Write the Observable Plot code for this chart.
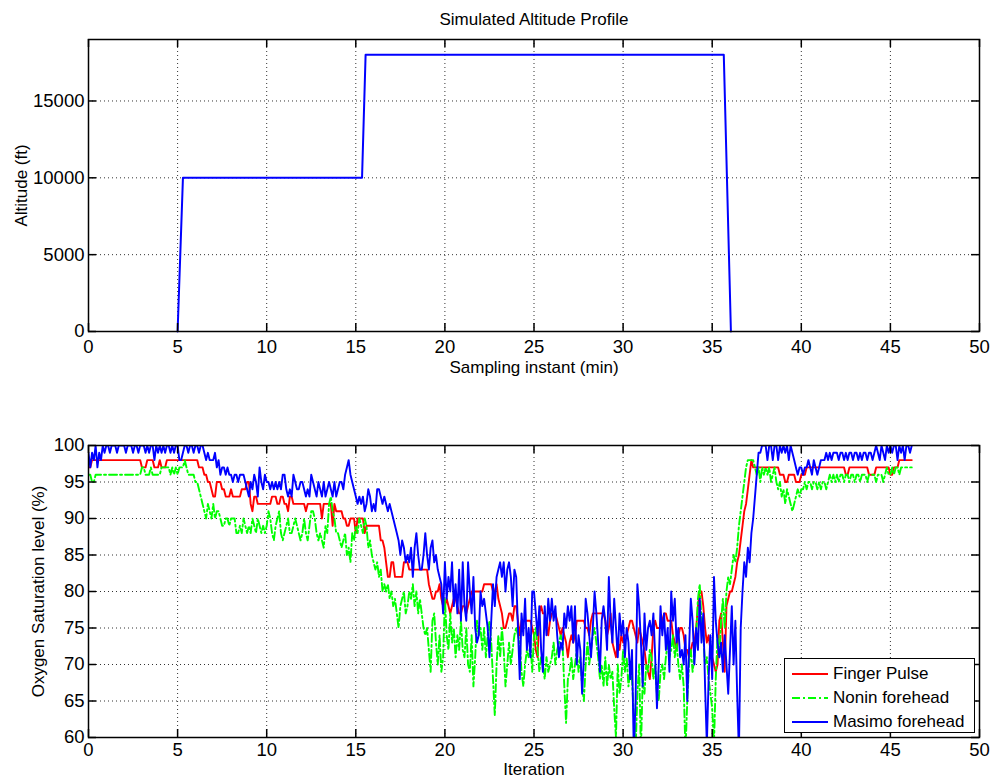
<!DOCTYPE html>
<html>
<head>
<meta charset="utf-8">
<script src="https://cdn.jsdelivr.net/npm/d3@7"></script>
<script src="https://cdn.jsdelivr.net/npm/@observablehq/plot@0.6"></script>
<style>
  html, body { margin: 0; padding: 0; background: #fff; }
  #wrap { position: relative; width: 991px; height: 780px; overflow: hidden; font-family: "Liberation Sans", Arial, Helvetica, sans-serif; }
  .panel { position: absolute; left: 0; }
  #legend { position: absolute; left: 784px; top: 658px; width: 191px; height: 75px; box-sizing: border-box;
            border: 1.5px solid #000; background: #fff; font-size: 17px; color: #000; }
  .row { position: absolute; left: 0; height: 24px; display: flex; align-items: center; }
  .row svg { margin-left: 7px; margin-right: 5px; }
</style>
</head>
<body>
<div id="wrap">
  <div id="top" class="panel" style="top:0"></div>
  <div id="bot" class="panel" style="top:380px"></div>
  <div id="legend"></div>
</div>
<script>
// ---------- Top panel data ----------
const topTitle = "Simulated Altitude Profile";
const topXLabel = "Sampling instant (min)";
const topYLabel = "Altitude (ft)";
const altTime = [5.0, 5.3, 15.35, 15.55, 35.65, 36.05];
const altFeet = [0, 10000, 10000, 18000, 18000, 0];
const xTicks = [0, 5, 10, 15, 20, 25, 30, 35, 40, 45, 50];
const altTicks = [0, 5000, 10000, 15000];

// ---------- Bottom panel data (one sample every 0.1 min) ----------
const botXLabel = "Iteration";
const botYLabel = "Oxygen Saturation level (%)";
const satTicks = [60, 65, 70, 75, 80, 85, 90, 95, 100];
const seriesNames = ["Finger Pulse", "Nonin forehead", "Masimo forehead"];
const iterStep = 0.1;
const fingerPulse = [
97,97,98,98,98,98,98,98,98,98,
98,98,98,98,98,98,98,98,98,98,
98,98,98,98,98,98,98,98,98,98,
97,97,97,98,98,98,98,97,97,97,
98,97,97,97,98,98,98,98,98,98,
98,98,98,98,98,98,98,98,98,98,
98,98,97,97,97,96,96,95,95,94,
93,93,95,95,95,94,94,93,93,93,
94,93,93,93,93,93,94,94,94,95,
95,92,91,93,93,92,92,92,92,92,
92,92,92,93,93,93,92,92,93,93,
92,92,91,93,93,92,92,92,92,92,
92,92,91,92,92,92,92,92,92,92,
92,90,92,92,92,92,92,89,92,91,
91,91,91,90,90,89,89,90,90,90,
88,90,90,90,90,88,89,89,89,89,
89,89,89,89,87,87,86,84,82,82,
84,84,82,82,82,82,82,84,84,84,
83,83,83,83,83,83,83,83,83,83,
83,81,80,79,79,80,80,81,79,78,
78,79,78,77,78,79,79,78,77,77,
78,78,77,78,79,80,80,80,80,80,
80,80,81,81,81,81,81,80,80,81,
79,78,77,75,75,76,77,77,76,78,
78,76,74,76,76,76,76,76,76,75,
74,72,71,77,78,77,77,75,74,76,
77,77,77,76,75,74,75,74,73,71,
73,74,73,74,76,76,76,76,76,75,
75,74,76,77,77,77,77,77,77,77,
76,74,75,77,73,72,71,73,72,74,
73,74,74,75,76,76,75,74,73,75,
74,73,72,70,69,68,71,75,76,75,
75,75,76,77,77,76,76,76,74,73,
72,74,75,75,74,72,72,71,72,73,
73,75,78,80,80,78,75,73,74,72,
71,70,69,70,76,77,73,69,78,79,
80,80,81,82,84,85,87,89,91,92,
94,96,98,97,97,97,97,97,97,97,
97,97,97,97,97,97,97,97,96,96,
96,95,95,96,96,96,96,95,95,95,
96,96,96,97,97,97,97,97,97,97,
97,97,97,97,97,97,97,97,97,97,
97,97,97,97,97,96,96,97,97,97,
97,97,97,97,97,97,97,97,96,96,
96,96,97,97,97,97,97,97,97,97,
96,96,97,97,97,98,98,98,98,98,
98,98,98];
const noninForehead = [
96,96,95,95,96,96,96,96,96,96,
96,96,96,96,96,96,96,96,96,96,
96,96,96,96,96,96,96,96,96,96,
97,97,96,96,96,97,96,96,96,96,
96,97,97,97,97,97,96,97,96,97,
96,97,97,97,98,97,96,96,96,96,
95,95,94,93,92,91,90,92,91,90,
92,90,91,91,90,89,89,90,90,89,
90,90,90,88,88,89,88,90,89,88,
89,88,90,89,88,90,89,88,89,88,
89,91,90,88,87,89,90,91,88,87,
88,89,90,88,88,89,90,89,88,87,
88,90,88,87,89,91,91,90,88,87,
88,87,86,89,88,92,93,91,90,88,
88,87,86,87,88,85,86,84,88,87,
89,88,90,89,88,90,89,86,87,85,
84,83,84,82,83,80,81,80,81,79,
80,78,79,77,75,78,79,80,77,78,
80,79,81,78,80,77,79,77,75,74,
75,72,69,76,77,73,70,74,69,71,
79,74,72,77,73,75,71,74,72,76,
72,71,75,70,69,74,67,71,76,74,
75,72,75,71,74,76,73,68,63,70,
74,71,75,72,67,70,73,70,72,74,
75,74,73,69,67,70,72,71,73,69,
74,75,72,69,71,70,68,71,69,70,
71,73,70,72,73,74,73,67,62,68,
69,71,68,70,72,69,71,67,65,70,
73,70,72,74,75,73,71,68,70,67,
71,67,70,68,69,64,60,70,66,68,
72,69,71,67,69,68,63,58,66,70,
58,68,66,70,69,72,71,68,70,66,
65,69,70,68,71,73,71,72,74,71,
73,70,68,70,67,58,65,70,72,69,
71,74,79,81,76,74,70,71,68,66,
64,59,68,74,71,76,79,75,80,82,
81,83,85,84,86,89,91,93,95,97,
98,98,98,98,97,96,97,95,97,96,
97,96,97,95,96,97,95,94,95,93,
94,92,94,93,92,91,92,93,94,93,
94,94,95,94,95,95,94,95,95,94,
95,94,95,95,94,95,96,95,96,95,
96,95,96,96,95,96,96,95,96,96,
95,96,96,95,96,96,96,95,96,96,
96,96,95,96,96,96,95,96,97,96,
96,97,96,97,97,96,97,97,97,97,
97,97,97];
const masimoForehead = [
99,97,99,98,100,97,99,98,100,99,
100,100,99,100,100,100,99,100,100,100,
100,99,100,100,100,99,100,100,99,100,
100,100,99,100,99,100,100,98,100,99,
100,99,100,99,100,100,99,100,99,100,
100,98,98,99,100,100,99,100,100,99,
100,100,99,100,100,99,98,99,98,98,
98,99,97,98,96,97,97,96,97,96,
96,95,96,96,95,96,96,96,95,94,
93,95,94,96,95,93,97,95,94,96,
95,95,94,95,94,95,94,95,94,96,
96,94,93,94,93,96,95,94,94,95,
95,94,93,94,93,96,95,94,93,95,
94,93,95,93,94,95,94,93,95,93,
94,95,95,94,96,97,98,96,95,94,
93,92,93,92,93,91,92,94,93,91,
92,91,94,94,93,92,93,92,91,92,
91,90,89,88,87,85,87,86,84,85,
84,86,82,86,88,85,83,83,85,88,
85,83,86,87,84,85,83,82,81,77,
84,79,82,80,84,78,81,77,83,76,
84,78,76,84,80,77,82,75,73,74,
80,78,79,77,75,71,76,81,78,82,
83,84,82,84,80,83,84,82,78,83,
82,75,68,77,74,79,72,75,71,80,
80,77,74,78,72,69,78,74,79,76,
79,76,78,74,71,73,72,77,75,78,
76,78,73,78,70,74,72,66,71,79,
77,74,71,75,80,77,73,69,76,78,
76,72,82,76,73,79,75,71,77,74,
76,71,75,73,68,72,58,65,81,78,
73,67,77,72,75,76,74,77,71,64,
70,78,74,77,72,75,69,80,76,79,
73,75,71,72,70,74,65,72,79,76,
70,75,72,79,73,77,67,59,68,74,
68,82,76,73,71,73,69,74,70,66,
72,78,70,76,66,58,75,80,84,82,
86,84,88,90,93,96,99,99,100,100,
100,98,100,100,98,100,100,98,100,99,
100,99,100,98,100,99,98,97,96,97,
97,96,97,97,98,97,96,98,97,96,
97,98,98,98,99,98,99,98,99,99,
99,98,99,99,98,99,98,99,99,98,
99,99,98,99,98,99,99,98,99,99,
98,99,100,99,98,100,99,98,100,99,
100,99,100,100,98,100,99,100,98,100,
100,99,100];

const seriesColors = ["#ff0000", "#00ff00", "#0000ff"];
const seriesDash = [null, "8,3,2,3", null];

// ---------- shared layout ----------
const W = 991, ML = 88, MR = 12;
const fontStack = "Liberation Sans, Arial, Helvetica, sans-serif";
const TICK = 8;
const TICK_FONT = 18.5;

function gridMarks(xT, yT) {
  return [
    Plot.ruleX(xT, {stroke: "#333", strokeWidth: 1, strokeDasharray: "1,3"}),
    Plot.ruleY(yT, {stroke: "#333", strokeWidth: 1, strokeDasharray: "1,3"})
  ];
}
function ticksMarks(innerW, innerH, xT, yT, xPad) {
  return [
    Plot.tickX(xT, {x: d => d, insetTop: innerH - TICK, stroke: "#000", strokeWidth: 1.5}),
    Plot.tickX(xT, {x: d => d, insetBottom: innerH - TICK, stroke: "#000", strokeWidth: 1.5}),
    Plot.tickY(yT, {y: d => d, insetRight: innerW - TICK, stroke: "#000", strokeWidth: 1.5}),
    Plot.tickY(yT, {y: d => d, insetLeft: innerW - TICK, stroke: "#000", strokeWidth: 1.5}),
    Plot.frame({stroke: "#000", strokeWidth: 1.5}),
    // tick labels
    Plot.text(xT, {x: d => d, frameAnchor: "bottom", dy: xPad, lineAnchor: "top", textAnchor: "middle",
                   text: d => String(d), fontSize: TICK_FONT, fill: "#000"}),
    Plot.text(yT, {y: d => d, frameAnchor: "left", dx: -4, lineAnchor: "middle", textAnchor: "end",
                   text: d => String(d), fontSize: TICK_FONT, fill: "#000"})
  ];
}
function label(txt, opts) {
  return Plot.text([txt], {text: d => d, fontSize: 17, textAnchor: "middle", lineAnchor: "middle", fill: "#000", ...opts});
}

// ---------- Top chart ----------
const topH = 380, topMT = 39, topMB = 49;
const topInnerW = W - ML - MR, topInnerH = topH - topMT - topMB;
const altData = altTime.map((t, i) => ({t, ft: altFeet[i]}));
const topPlot = Plot.plot({
  width: W, height: topH,
  marginLeft: ML, marginRight: MR, marginTop: topMT, marginBottom: topMB,
  style: {fontFamily: fontStack, fontSize: "17px", color: "#000", background: "#fff", overflow: "visible"},
  x: {domain: [0, 50], axis: null},
  y: {domain: [0, 19000], axis: null},
  marks: [
    ...gridMarks(xTicks.slice(1, -1), altTicks.slice(1)),
    Plot.line(altData, {x: "t", y: "ft", stroke: "#0000ff", strokeWidth: 2}),
    ...ticksMarks(topInnerW, topInnerH, xTicks, altTicks, 8),
    label(topTitle, {frameAnchor: "top", dy: -20}),
    label(topXLabel, {frameAnchor: "bottom", dy: 36}),
    label(topYLabel, {frameAnchor: "left", dx: -67, rotate: -90})
  ]
});
document.getElementById("top").appendChild(topPlot);

// ---------- Bottom chart ----------
const botH = 400, botMT = 65, botMB = 43;
const botInnerW = W - ML - MR, botInnerH = botH - botMT - botMB;
const allSeries = [fingerPulse, noninForehead, masimoForehead];
const botRows = [];
allSeries.forEach((arr, s) => arr.forEach((v, i) => botRows.push({
  iter: Math.round(i * iterStep * 10) / 10, sat: v, series: seriesNames[s]
})));
const botPlot = Plot.plot({
  width: W, height: botH,
  marginLeft: ML, marginRight: MR, marginTop: botMT, marginBottom: botMB,
  style: {fontFamily: fontStack, fontSize: "17px", color: "#000", background: "#fff", overflow: "visible"},
  x: {domain: [0, 50], axis: null},
  y: {domain: [60, 100], axis: null},
  marks: [
    ...gridMarks(xTicks.slice(1, -1), satTicks.slice(1, -1)),
    ...seriesNames.map((name, s) => Plot.line(botRows.filter(d => d.series === name), {
      x: "iter", y: "sat", stroke: seriesColors[s], strokeWidth: 1.9,
      strokeDasharray: seriesDash[s] || undefined, clip: true
    })),
    ...ticksMarks(botInnerW, botInnerH, xTicks, satTicks, 5),
    label(botXLabel, {frameAnchor: "bottom", dy: 32}),
    label(botYLabel, {frameAnchor: "left", dx: -50, rotate: -90})
  ]
});
document.getElementById("bot").appendChild(botPlot);

// ---------- Legend ----------
const legend = document.getElementById("legend");
seriesNames.forEach((name, s) => {
  const row = document.createElement("div");
  row.className = "row";
  row.style.top = (3 + s * 24) + "px";
  const dash = seriesDash[s] ? ` stroke-dasharray="${seriesDash[s]}"` : "";
  row.innerHTML = `<svg width="36" height="6"><line x1="0" y1="3" x2="36" y2="3" stroke="${seriesColors[s]}" stroke-width="1.9"${dash}/></svg><span>${name}</span>`;
  legend.appendChild(row);
});
</script>
</body>
</html>
